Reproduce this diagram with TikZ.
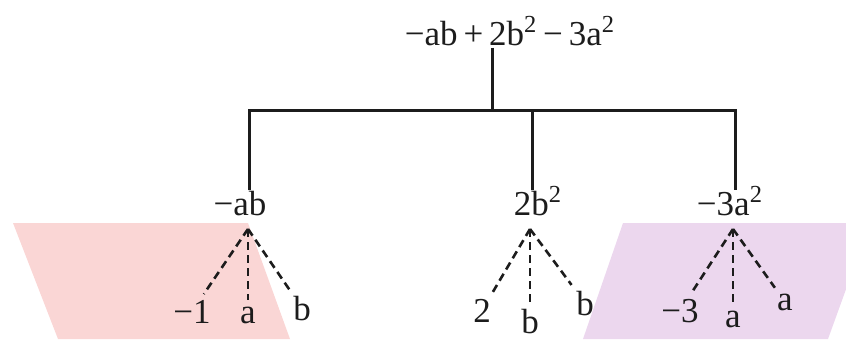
\documentclass[tikz,border=0pt]{standalone}
\usepackage{fontspec}
\setmainfont{Liberation Serif}
\definecolor{ink}{RGB}{28,28,28}
\definecolor{pinkfill}{RGB}{250,214,213}
\definecolor{lilacfill}{RGB}{236,215,238}

\begin{document}
\begin{tikzpicture}[
            x=0.5pt, y=-0.5pt,
            font=\fontsize{17.5}{20}\selectfont,
        % terms of the polynomial and their factors: plain text, set on the baseline
            term/.style={inner sep=1pt, anchor=base, text=ink},
            leaf/.style={inner sep=1.5pt, anchor=base, text=ink},
        % solid tree and dashed factor lines
            stem/.style={draw=ink, line width=1.5pt},
            split/.style={draw=ink, line width=1.3pt, dash pattern=on 4pt off 2.5pt, shorten >=1.5pt}
        ]
            \clip (0,0) rectangle (846,339);

% --- shaded bands behind the outer factor trees ---
            \fill[pinkfill]  (13,223) -- (248,223) -- (290,339) -- (58,339) -- cycle;
            \fill[lilacfill] (623,223) -- (870,223) -- (828,339) -- (583,339) -- cycle;

% --- polynomial and its terms ---
            \node[term] (poly) at (510,45) {−ab\,+\,2b\textsuperscript{2}\,−\,3a\textsuperscript{2}};
            \node[term] (ab) at (240,215) {−ab};
            \node[term] (bb) at (538,215) {2b\textsuperscript{2}};
            \node[term] (aa) at (730,215) {−3a\textsuperscript{2}};

% --- tree joints ---
            \coordinate (bar)   at (492,110);
            \coordinate (abtop) at (249,190);
            \coordinate (bbtop) at (532,190);
            \coordinate (aatop) at (735,190);
            \coordinate (abtip) at (248,229);
            \coordinate (bbtip) at (530,229);
            \coordinate (aatip) at (733,229);

% --- factors ---
            \node[leaf] (ab1) at (192,323) {−1};
            \node[leaf] (ab2) at (248,323) {a};
            \node[leaf] (ab3) at (302,320) {b};
            \node[leaf] (bb1) at (482,322) {2};
            \node[leaf] (bb2) at (530,333) {b};
            \node[leaf] (bb3) at (585,315) {b};
            \node[leaf] (aa1) at (680,322) {−3};
            \node[leaf] (aa2) at (733,327) {a};
            \node[leaf] (aa3) at (785,310) {a};

% --- solid tree ---
            \draw[stem] (poly.south -| bar) -- (bar);
            \draw[stem] (abtop) |- (bar) -| (aatop);
            \draw[stem] (bbtop) -- (bbtop |- bar);

% --- dashed factor lines ---
            \draw[split] (abtip) -- (ab1);
            \draw[split] (abtip) -- (ab2);
            \draw[split] (abtip) -- (ab3);
            \draw[split] (bbtip) -- (bb1);
            \draw[split] (bbtip) -- (bb2);
            \draw[split] (bbtip) -- (bb3);
            \draw[split] (aatip) -- (aa1);
            \draw[split] (aatip) -- (aa2);
            \draw[split] (aatip) -- (aa3);
\end{tikzpicture}
\end{document}
